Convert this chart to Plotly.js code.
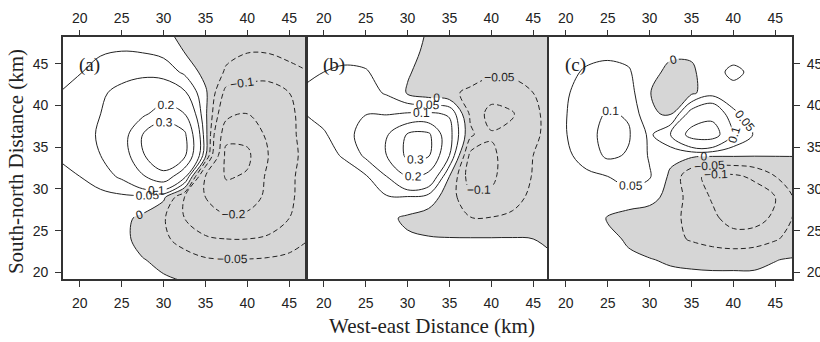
<!DOCTYPE html>
<html><head><meta charset="utf-8">
<script src="https://cdn.plot.ly/plotly-3.0.1.min.js"></script>
<style>html,body{margin:0;padding:0;background:#fff;}#chart{width:820px;height:342px;}</style>
</head><body><div id="chart"></div>
<script>
// grid (km)
const xs = [17.5,20,22.5,25,27.5,30,32.5,35,37.5,40,42.5,45,47.5];
const ys = [19,21.5,24,26.5,29,31.5,34,36.5,39,41.5,44,46.5,49];

// panel (a) values, rows from south (y=19) to north (y=49)
const zA = [
 [0.005,0.008,0.008,0.007,0.007,0.005,-0.001,-0.015,-0.025,-0.027,-0.027,-0.022,-0.016],
 [0.006,0.01,0.012,0.009,0.002,-0.01,-0.03,-0.045,-0.048,-0.048,-0.045,-0.04,-0.03],
 [0.01,0.015,0.016,0.012,-0.015,-0.04,-0.07,-0.09,-0.1,-0.1,-0.09,-0.07,-0.05],
 [0.015,0.02,0.022,0.012,-0.01,-0.045,-0.1,-0.15,-0.19,-0.18,-0.14,-0.1,-0.06],
 [0.025,0.03,0.035,0.04,0.038,0.01,-0.1,-0.2,-0.25,-0.24,-0.18,-0.11,-0.07],
 [0.035,0.05,0.075,0.11,0.19,0.27,0.12,-0.2,-0.31,-0.29,-0.18,-0.11,-0.075],
 [0.055,0.075,0.1,0.14,0.29,0.38,0.32,0.01,-0.33,-0.32,-0.2,-0.115,-0.08],
 [0.07,0.085,0.105,0.15,0.3,0.38,0.32,0.02,-0.27,-0.27,-0.18,-0.11,-0.08],
 [0.065,0.08,0.1,0.15,0.18,0.25,0.2,0.01,-0.17,-0.2,-0.16,-0.11,-0.075],
 [0.05,0.07,0.09,0.12,0.14,0.14,0.11,0.01,-0.12,-0.13,-0.13,-0.1,-0.07],
 [0.04,0.048,0.06,0.075,0.085,0.08,0.04,-0.02,-0.055,-0.07,-0.075,-0.06,-0.05],
 [0.03,0.04,0.047,0.05,0.047,0.035,-0.002,-0.02,-0.04,-0.048,-0.047,-0.04,-0.035],
 [0.02,0.025,0.03,0.03,0.02,0.005,-0.01,-0.02,-0.03,-0.035,-0.035,-0.03,-0.025]
];

// panel (b)
const zB = [
 [0.002,0.003,0.003,0.004,0.004,0.004,0.004,0.004,0.004,0.004,0.004,0.003,0.002],
 [0.003,0.004,0.005,0.006,0.006,0.006,0.006,0.006,0.006,0.006,0.005,0.004,0.003],
 [0.004,0.006,0.008,0.01,0.008,0.006,0.004,0.003,0.003,0.003,0.003,0.0,-0.008],
 [0.005,0.008,0.012,0.015,0.01,-0.008,-0.025,-0.04,-0.048,-0.048,-0.042,-0.03,-0.02],
 [0.008,0.012,0.02,0.03,0.045,0.045,0.03,-0.03,-0.085,-0.09,-0.065,-0.04,-0.025],
 [0.01,0.018,0.03,0.045,0.1,0.2,0.17,0.0,-0.13,-0.11,-0.07,-0.048,-0.03],
 [0.02,0.035,0.055,0.11,0.2,0.32,0.31,0.1,-0.115,-0.11,-0.075,-0.05,-0.035],
 [0.03,0.045,0.075,0.13,0.19,0.31,0.32,0.12,-0.04,-0.095,-0.085,-0.055,-0.04],
 [0.048,0.065,0.08,0.098,0.095,0.105,0.108,0.095,-0.06,-0.12,-0.105,-0.055,-0.04],
 [0.055,0.058,0.062,0.068,0.045,-0.005,-0.03,-0.045,-0.055,-0.075,-0.068,-0.05,-0.04],
 [0.04,0.05,0.055,0.052,0.04,0.005,-0.02,-0.03,-0.038,-0.042,-0.042,-0.035,-0.03],
 [0.025,0.035,0.04,0.04,0.032,0.015,-0.01,-0.02,-0.025,-0.03,-0.03,-0.025,-0.02],
 [0.02,0.025,0.03,0.03,0.025,0.012,-0.002,-0.01,-0.015,-0.018,-0.018,-0.016,-0.014]
];

// panel (c)
const zC = [
 [0.004,0.005,0.006,0.006,0.007,0.01,0.012,0.015,0.015,0.015,0.012,0.01,0.008],
 [0.005,0.006,0.007,0.006,0.004,0.002,-0.005,-0.012,-0.016,-0.016,-0.012,-0.001,0.004],
 [0.008,0.01,0.01,0.006,-0.003,-0.02,-0.035,-0.055,-0.07,-0.08,-0.075,-0.055,-0.03],
 [0.01,0.012,0.012,-0.002,-0.02,-0.03,-0.04,-0.06,-0.09,-0.12,-0.12,-0.09,-0.04],
 [0.015,0.02,0.025,0.03,0.03,0.02,-0.02,-0.07,-0.105,-0.14,-0.13,-0.1,-0.04],
 [0.02,0.03,0.04,0.05,0.07,0.055,-0.01,-0.09,-0.11,-0.11,-0.09,-0.05,-0.02],
 [0.025,0.04,0.07,0.11,0.095,0.045,0.015,0.01,0.005,0.005,0.003,0.002,0.001],
 [0.03,0.048,0.08,0.12,0.105,0.04,0.1,0.24,0.25,0.11,0.045,0.03,0.035],
 [0.03,0.048,0.08,0.105,0.095,0.005,-0.005,0.13,0.17,0.055,0.035,0.03,0.04],
 [0.03,0.045,0.07,0.08,0.07,0.002,-0.03,-0.01,0.03,0.035,0.04,0.04,0.052],
 [0.025,0.04,0.055,0.06,0.055,0.015,-0.012,-0.01,0.035,0.06,0.04,0.035,0.04],
 [0.02,0.03,0.038,0.042,0.035,0.02,0.01,0.01,0.02,0.03,0.03,0.03,0.03],
 [0.01,0.015,0.02,0.025,0.02,0.015,0.01,0.01,0.015,0.02,0.02,0.02,0.02]
];

const levels = [-0.3,-0.2,-0.1,-0.05,0,0.05,0.1,0.2,0.3];
const tickVals = [20,25,30,35,40,45];
const panelLabels = ['(a)','(b)','(c)'];
const xTitle = 'West-east Distance (km)';
const yTitle = 'South-north Distance (km)';

const sans = 'Liberation Sans, Arial, Helvetica, sans-serif';
const serif = 'Liberation Serif, Times New Roman, serif';
const ink = '#222';

const panels = [
  {z: zA, xa: 'x', ya: 'y'},
  {z: zB, xa: 'x2', ya: 'y2'},
  {z: zC, xa: 'x3', ya: 'y3'}
];

const traces = [];
panels.forEach(p => {
  // shade where z < 0 (plotly shades the region outside the constraint)
  traces.push({
    type: 'contour', x: xs, y: ys, z: p.z, xaxis: p.xa, yaxis: p.ya,
    contours: {type: 'constraint', operation: '>', value: 0},
    fillcolor: '#d6d6d6', line: {width: 0, smoothing: 1},
    showscale: false, hoverinfo: 'skip', showlegend: false
  });
  levels.forEach(L => {
    traces.push({
      type: 'contour', x: xs, y: ys, z: p.z, xaxis: p.xa, yaxis: p.ya,
      autocontour: false,
      contours: {start: L, end: L, size: 0.05, coloring: 'none', showlabels: true,
                 labelfont: {family: sans, size: 12, color: '#222'}, labelformat: '~g'},
      line: {color: ink, width: 1, dash: L < 0 ? '5px,3px' : 'solid', smoothing: 1},
      showscale: false, hoverinfo: 'skip', showlegend: false
    });
  });
});
// empty traces so the top tick axes exist
['x4','x5','x6'].forEach((xa, i) => {
  traces.push({type: 'scatter', x: [], y: [], xaxis: xa, yaxis: ['y','y2','y3'][i], showlegend: false, hoverinfo: 'skip'});
});

const xr = [18, 47], yr = [19.2, 48.2];
const doms = [[0.0768, 0.3732], [0.3744, 0.6707], [0.6695, 0.9659]];
const ydom = [0.1842, 0.8918];

function xaxisBase(dom, anchor) {
  return {domain: dom, anchor: anchor, range: xr, tickvals: tickVals, ticks: 'outside', ticklen: 6,
    tickwidth: 1, tickcolor: '#333', showline: true, linewidth: 1.8, linecolor: '#333', mirror: true,
    showgrid: false, zeroline: false, tickfont: {family: sans, size: 14, color: ink}, ticklabelstandoff: 4};
}
function xaxisTop(over, anchor) {
  return {overlaying: over, anchor: anchor, side: 'top', range: xr, tickvals: tickVals, ticks: 'outside', ticklen: 6,
    tickwidth: 1, tickcolor: '#333', showline: false, showgrid: false, zeroline: false,
    tickfont: {family: sans, size: 14, color: ink}, ticklabelstandoff: 1};
}
function yaxisBase(anchor, side, show) {
  return {domain: ydom, anchor: anchor, range: yr, side: side, tickvals: tickVals,
    ticks: show ? 'outside' : '', ticklen: 6, tickwidth: 1, tickcolor: '#333', showticklabels: show,
    showline: true, linewidth: 1.8, linecolor: '#333', mirror: true, showgrid: false, zeroline: false,
    tickfont: {family: sans, size: 14, color: ink}, ticklabelstandoff: 4};
}

const annotations = panelLabels.map((t, i) => ({
  text: t, xref: ['x','x2','x3'][i], yref: ['y','y2','y3'][i], x: 21.2, y: 44.8,
  showarrow: false, font: {family: serif, size: 19, color: ink}
}));
annotations.push({text: xTitle, xref: 'paper', yref: 'paper', x: 0.527, y: 0.047,
  xanchor: 'center', yanchor: 'middle',
  showarrow: false, font: {family: serif, size: 21, color: ink}});
annotations.push({text: yTitle, xref: 'paper', yref: 'paper', x: 0.0195, y: 0.529, textangle: -90,
  xanchor: 'center', yanchor: 'middle',
  showarrow: false, font: {family: serif, size: 21, color: ink}});

const layout = {
  width: 820, height: 342, margin: {l: 0, r: 0, t: 0, b: 0},
  paper_bgcolor: '#fff', plot_bgcolor: '#fff', showlegend: false,
  xaxis: xaxisBase(doms[0], 'y'), xaxis2: xaxisBase(doms[1], 'y2'), xaxis3: xaxisBase(doms[2], 'y3'),
  xaxis4: xaxisTop('x', 'y'), xaxis5: xaxisTop('x2', 'y2'), xaxis6: xaxisTop('x3', 'y3'),
  yaxis: yaxisBase('x', 'left', true), yaxis2: yaxisBase('x2', 'left', false), yaxis3: yaxisBase('x3', 'right', true),
  annotations: annotations
};

Plotly.newPlot('chart', traces, layout, {staticPlot: true, displayModeBar: false});
</script>
</body></html>
